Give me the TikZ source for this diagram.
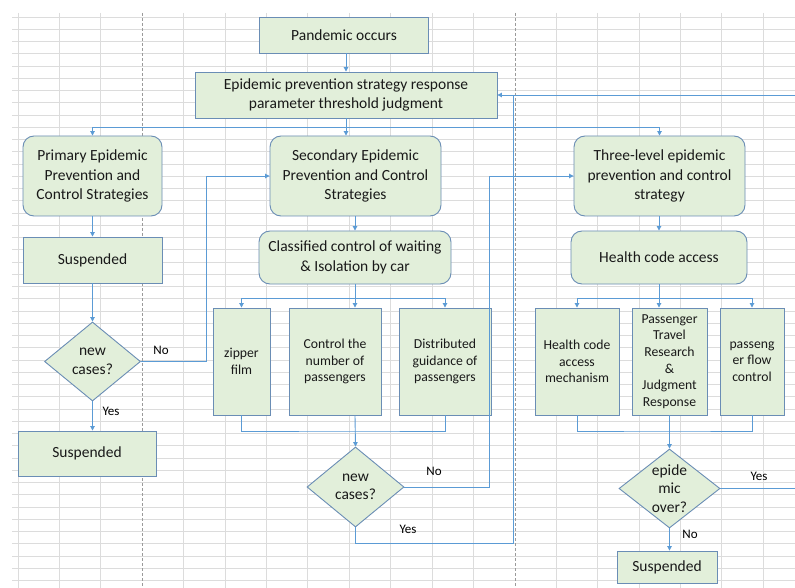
\documentclass[tikz,border=0pt]{standalone}
\usepackage{fontspec}
\setmainfont{Carlito}
\usetikzlibrary{shapes.geometric,arrows.meta,calc}
\definecolor{fillc}{HTML}{E2EFDA}
\definecolor{bordc}{HTML}{6A8DB5}
\definecolor{linec}{HTML}{5B9BD5}
\definecolor{gridc}{HTML}{DCDCDC}
\definecolor{pagec}{HTML}{9A9A9A}
\newcommand\myfs[2]{\fontsize{#1}{#2}\selectfont}
\begin{document}
\begin{tikzpicture}[x=1pt,y=-1pt,
 box/.style={draw=bordc, fill=fillc, line width=0.9pt, inner sep=0pt, align=center, font=\myfs{15.5}{19.3}, text=black!90},
 rbox/.style={box, rounded corners=11pt},
 sbox/.style={box, font=\myfs{13.7}{16.7}},
 dia/.style={diamond, draw=bordc, fill=fillc, line width=0.9pt, inner sep=0pt},
 diatxt/.style={align=center, font=\myfs{15.5}{18.5}, inner sep=0pt, text=black!90},
 conn/.style={draw=linec, line width=0.9pt},
 arr/.style={conn, -{Triangle[length=4.5pt,width=4.5pt]}},
 lbl/.style={font=\myfs{13}{15}, inner sep=0pt},
 gridln/.style={draw=gridc, line width=0.7pt},
 pageln/.style={draw=pagec, line width=0.6pt, dash pattern=on 3pt off 2pt},
]
\useasboundingbox[fill=white] (0,0) rectangle (795,588);
% spreadsheet background
\foreach \i in {0,...,46} \draw[gridln] (12,{17+12.25*\i}) -- (795,{17+12.25*\i});
\foreach \i in {0,1,2,4,5,6,7,8,9,10,11,13,14,15,16,17,18} \draw[gridln] ({18+41.4*\i},13) -- ({18+41.4*\i},588);
\foreach \i in {3,12} \draw[pageln] ({18+41.4*\i},13) -- ({18+41.4*\i},588);

% nodes
\node[box, minimum width=169, minimum height=36] (pan) at (344,35) {Pandemic occurs};
\node[box, minimum width=302, minimum height=46] (thr) at (346,95) {Epidemic prevention strategy response\\parameter threshold judgment};
\node[rbox, minimum width=139, minimum height=80] (prim) at (92.5,176) {Primary Epidemic\\Prevention and\\Control Strategies};
\node[rbox, minimum width=171, minimum height=80] (sec) at (355.5,176) {Secondary Epidemic\\Prevention and Control\\Strategies};
\node[rbox, minimum width=171, minimum height=80] (three) at (659.5,176) {Three-level epidemic\\prevention and control\\strategy};
\node[box, minimum width=139, minimum height=46] (sus1) at (92.5,260) {Suspended};
\node[dia, minimum width=96, minimum height=79] (d1) at (92.5,361.5) {};
\node[diatxt] (d1t) at (d1) {new\\cases?};
\node[box, minimum width=138, minimum height=45] (sus2) at (87,453.5) {Suspended};
\node[rbox, minimum width=192, minimum height=53] (cls) at (355,257.5) {Classified control of waiting\\\& Isolation by car};
\node[sbox, minimum width=57, minimum height=107] (zip) at (241.5,361.5) {zipper\\film};
\node[sbox, minimum width=92, minimum height=107] (num) at (335,361.5) {Control the\\number of\\passengers};
\node[sbox, minimum width=92, minimum height=107] (dist) at (445,361.5) {Distributed\\guidance of\\passengers};
\node[dia, minimum width=97, minimum height=80] (d2) at (355.5,487) {};
\node[diatxt] (d2t) at (d2) {new\\cases?};
\node[rbox, minimum width=176, minimum height=53] (hca) at (659,257.5) {Health code access};
\node[sbox, minimum width=84, minimum height=107] (hcm) at (577,361.5) {Health code\\access\\mechanism};
\node[sbox, minimum width=75, minimum height=107] (ptr) at (669.5,361.5) {Passenger\\Travel\\Research\\\&\\Judgment\\Response};
\node[sbox, minimum width=64, minimum height=107] (pfc) at (752,361.5) {passeng\\er flow\\control};
\node[dia, minimum width=101, minimum height=79] (d3) at (669.5,488.5) {};
\node[diatxt] (d3t) at (d3) {epide\\mic\\over?};
\node[box, minimum width=100, minimum height=32] (sus3) at (667,567) {Suspended};

% coordinates
\coordinate (br) at (346,127);
\coordinate (n1) at (206,361.5);
\coordinate (b2) at (355,298);
\coordinate (j2) at (355,431);
\coordinate (n2) at (489,487);
\coordinate (y2) at (513,543);
\coordinate (re1) at (795,95);
\coordinate (b3) at (659,298);
\coordinate (j3) at (669.5,431);
\coordinate (re2) at (795,488.5);

% connectors
\draw[arr] (pan.south -| thr.north) -- (thr.north);
\draw[conn] (thr.south) -- (br);
\draw[arr] (br) -| (prim.north);
\draw[arr] (br) -| (three.north);
\draw[arr] (br) -- (br |- sec.north);
\draw[arr] (prim) -- (sus1);
\draw[arr] (sus1) -- (d1);
\draw[arr] (d1.east) -- (n1) |- (sec.west);
\draw[arr] (d1.south) -- (d1.south |- sus2.north);
\draw[arr] (sec.south -| cls.north) -- (cls.north);
\draw[conn] (cls.south) -- (b2);
\draw[arr] (b2) -| (zip.north);
\draw[arr] (b2) -| (dist.north);
\draw[arr] (b2) -- (b2 |- num.north);
\draw[conn] (zip.south) |- (j2) -| (dist.south);
\draw[arr] (j2 |- num.south) -- (d2.north);
\draw[arr] (d2.east) -- (n2) |- (three.west);
\draw[arr] (d2.south) |- (y2) |- (thr.east);
\draw[conn] (re1) -- (y2 |- re1);
\draw[arr] (three.south -| hca.north) -- (hca.north);
\draw[conn] (hca.south) -- (b3);
\draw[arr] (b3) -| (hcm.north);
\draw[arr] (b3) -| (pfc.north);
\draw[arr] (b3) -- (b3 |- ptr.north);
\draw[conn] (hcm.south) |- (j3) -| (pfc.south);
\draw[arr] (ptr.south) -- (d3.north);
\draw[conn] (d3.east) -- (re2);
\draw[arr] (d3.south) -- (d3.south |- sus3.north);

% labels
\node[lbl] (l1) at (161,350) {No};
\node[lbl] (l2) at (111,411) {Yes};
\node[lbl] (l3) at (434,471.5) {No};
\node[lbl] (l4) at (408,529) {Yes};
\node[lbl] (l5) at (759,476) {Yes};
\node[lbl] (l6) at (690,534) {No};
\end{tikzpicture}
\end{document}
